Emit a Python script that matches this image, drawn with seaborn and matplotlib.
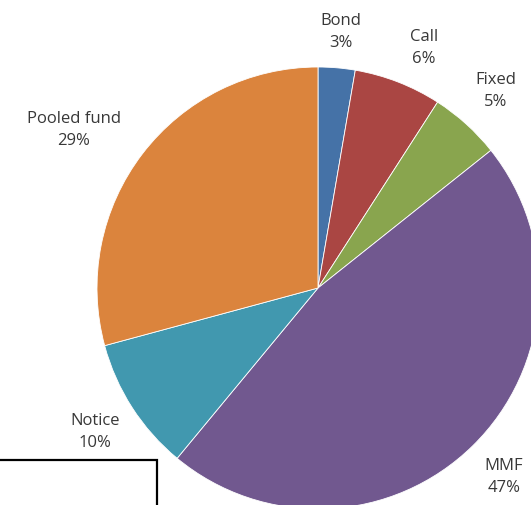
import matplotlib

matplotlib.use("Agg")
import matplotlib.pyplot as plt
import seaborn as sns
from matplotlib.patches import Rectangle

categories = ["Bond", "Call", "Fixed", "MMF", "Notice", "Pooled fund"]
shares = [2.7, 6.4, 5.2, 46.7, 9.8, 29.2]
share_labels = ["3%", "6%", "5%", "47%", "10%", "29%"]
slice_colors = ["#4572A7", "#AA4643", "#89A54E", "#71588F", "#4198AF", "#DB843D"]

sns.set_theme(style="white")
plt.rcParams["font.family"] = ["Open Sans", "DejaVu Sans"]

fig = plt.figure(figsize=(5.31, 5.05), dpi=100)
ax = fig.add_axes([0, 0, 1, 1])

palette = sns.color_palette(slice_colors)
labels = [f"{name}\n{pct}" for name, pct in zip(categories, share_labels)]
wedges, texts = ax.pie(
    shares,
    labels=labels,
    colors=palette,
    startangle=90,
    counterclock=False,
    labeldistance=1.2,
    wedgeprops={"edgecolor": "white", "linewidth": 0.6},
    textprops={"ha": "center", "va": "center", "fontsize": 12, "color": "#383838", "linespacing": 1.5},
)
# small nudges so the labels sit where the original puts them
x, y = texts[0].get_position()
texts[0].set_position((x, y * 0.97))
x, y = texts[1].get_position()
texts[1].set_position((x * 1.1, y * 0.97))
x, y = texts[5].get_position()
texts[5].set_position((x * 1.16, y * 0.98))

radius_px = 221
cx, cy = 318, 505 - 288
ax.set_xlim(-cx / radius_px, (531 - cx) / radius_px)
ax.set_ylim(-cy / radius_px, (505 - cy) / radius_px)
ax.set_aspect("auto")
ax.axis("off")

# cut-off box at lower left
fig.patches.append(
    Rectangle((-5 / 531, -10 / 505), 162 / 531, 55 / 505, transform=fig.transFigure,
              fill=False, edgecolor="black", linewidth=1.6)
)

fig.savefig("out.png", dpi=100)
plt.close(fig)
